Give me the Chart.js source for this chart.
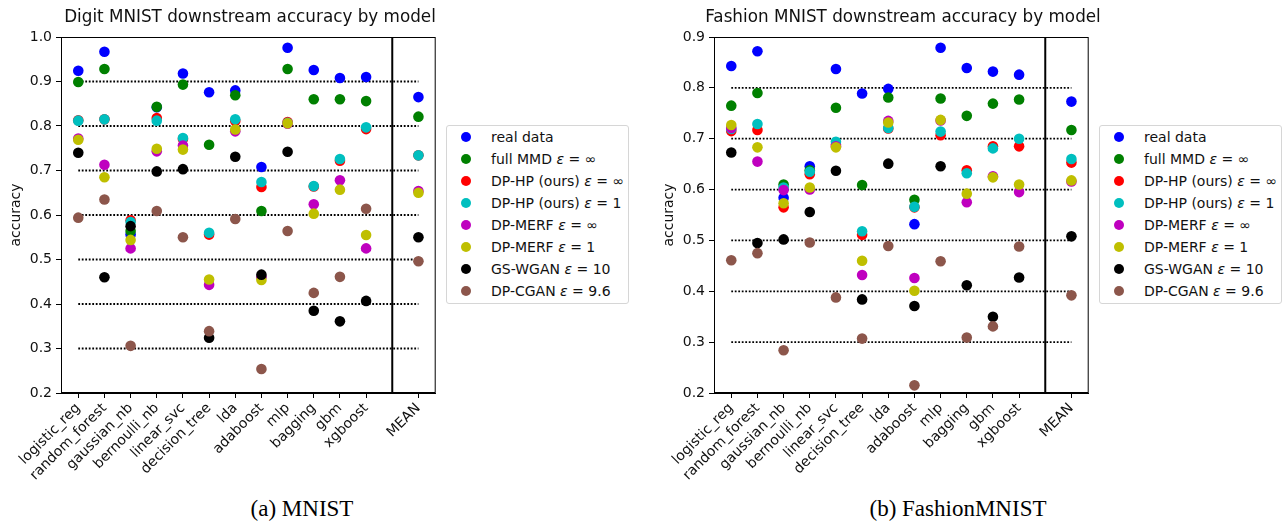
<!DOCTYPE html>
<html>
<head>
<meta charset="utf-8">
<script src="https://cdn.jsdelivr.net/npm/chart.js@4/dist/chart.umd.min.js"></script>
<style>
  body { margin: 0; background: #fff; width: 1284px; height: 525px; position: relative; overflow: hidden; font-family: "DejaVu Sans", sans-serif; }
  .plot { position: absolute; top: 0; width: 441px; height: 485px; }
  .title { position: absolute; top: 6px; width: 440px; text-align: center; font-size: 16.8px; color: #111; white-space: nowrap; }
  .legend { position: absolute; top: 125px; width: 181px; height: 177px; border: 1px solid #d6d6d6; border-radius: 3px; background: #fff; color: #111; font-size: 14px; }
  .legend .row { position: relative; height: 22px; line-height: 22px; white-space: nowrap; }
  .legend .dot { position: absolute; left: 14px; top: 6px; width: 10px; height: 10px; border-radius: 50%; }
  .legend .txt { position: absolute; left: 44px; top: 0; }
  .caption { position: absolute; top: 496px; font-family: "Liberation Serif", serif; font-size: 23px; color: #000; text-align: center; width: 400px; }
</style>
</head>
<body>
<div class="plot" style="left:0"><canvas id="digitChart"></canvas></div>
<div class="plot" style="left:653px"><canvas id="fashionChart"></canvas></div>
<div class="title" style="left:30px">Digit MNIST downstream accuracy by model</div>
<div class="title" style="left:683px">Fashion MNIST downstream accuracy by model</div>
<div class="legend" id="digitLegend" style="left:446px"></div>
<div class="legend" id="fashionLegend" style="left:1099px"></div>
<div class="caption" style="left:102px">(a) MNIST</div>
<div class="caption" style="left:758px">(b) FashionMNIST</div>
<script>
// models on the x axis, MEAN is put one slot after a separator
const models = ["logistic_reg", "random_forest", "gaussian_nb", "bernoulli_nb", "linear_svc",
  "decision_tree", "lda", "adaboost", "mlp", "bagging", "gbm", "xgboost"];
const meanLabel = "MEAN";

const seriesNames = ["real data", "full MMD ε = ∞", "DP-HP (ours) ε = ∞", "DP-HP (ours) ε = 1",
  "DP-MERF ε = ∞", "DP-MERF ε = 1", "GS-WGAN ε = 10", "DP-CGAN ε = 9.6"];
const seriesColors = ["#0000ff", "#008000", "#ff0000", "#00bfbf", "#bf00bf", "#bfbf00", "#000000", "#8c564b"];

// Digit MNIST (12 models + MEAN)
const digitReal    = [0.924, 0.967, 0.556, 0.842, 0.918, 0.876, 0.880, 0.708, 0.976, 0.926, 0.908, 0.910, 0.865];
const digitFullMMD = [0.899, 0.928, 0.564, 0.843, 0.893, 0.758, 0.869, 0.609, 0.928, 0.860, 0.860, 0.856, 0.821];
const digitHPinf   = [0.813, 0.815, 0.588, 0.818, 0.771, 0.556, 0.811, 0.663, 0.809, 0.664, 0.722, 0.793, 0.734];
const digitHP1     = [0.812, 0.815, 0.584, 0.812, 0.773, 0.560, 0.815, 0.674, 0.807, 0.665, 0.726, 0.797, 0.734];
const digitMERFinf = [0.772, 0.713, 0.525, 0.743, 0.756, 0.443, 0.788, 0.460, 0.805, 0.624, 0.678, 0.525, 0.654];
const digitMERF1   = [0.769, 0.685, 0.544, 0.749, 0.747, 0.455, 0.792, 0.454, 0.806, 0.603, 0.657, 0.555, 0.650];
const digitGSWGAN  = [0.740, 0.460, 0.575, 0.698, 0.703, 0.324, 0.731, 0.466, 0.742, 0.385, 0.361, 0.407, 0.550];
const digitDPCGAN  = [0.594, 0.635, 0.306, 0.609, 0.550, 0.339, 0.591, 0.254, 0.564, 0.425, 0.461, 0.614, 0.496];

// Fashion MNIST (12 models + MEAN)
const fashionReal    = [0.843, 0.872, 0.584, 0.646, 0.837, 0.789, 0.798, 0.532, 0.879, 0.839, 0.832, 0.826, 0.773];
const fashionFullMMD = [0.765, 0.790, 0.610, 0.638, 0.761, 0.609, 0.781, 0.580, 0.779, 0.745, 0.769, 0.777, 0.717];
const fashionHPinf   = [0.715, 0.717, 0.565, 0.630, 0.688, 0.511, 0.720, 0.565, 0.707, 0.638, 0.685, 0.685, 0.653];
const fashionHP1     = [0.719, 0.729, 0.604, 0.635, 0.694, 0.518, 0.721, 0.566, 0.714, 0.632, 0.681, 0.700, 0.660];
const fashionMERFinf = [0.721, 0.655, 0.599, 0.600, 0.685, 0.432, 0.735, 0.426, 0.736, 0.575, 0.626, 0.595, 0.616];
const fashionMERF1   = [0.727, 0.683, 0.573, 0.604, 0.683, 0.460, 0.732, 0.401, 0.737, 0.592, 0.624, 0.610, 0.618];
const fashionGSWGAN  = [0.673, 0.495, 0.502, 0.556, 0.637, 0.384, 0.651, 0.371, 0.646, 0.412, 0.350, 0.427, 0.508];
const fashionDPCGAN  = [0.461, 0.475, 0.284, 0.496, 0.388, 0.307, 0.489, 0.215, 0.459, 0.309, 0.331, 0.488, 0.392];

// dotted reference levels
const digitRefLevels = [0.3, 0.4, 0.5, 0.6, 0.7, 0.8, 0.9];
const fashionRefLevels = [0.3, 0.4, 0.5, 0.6, 0.7, 0.8];

const xLabels = [...models, meanLabel];
const xPos = [...models.map((_, i) => i), models.length + 1];
const sepX = models.length;

const tickFont = { family: "DejaVu Sans", size: 14 };

const framePlugin = {
  id: "frame",
  afterDraw(chart) {
    const { ctx, chartArea: a } = chart;
    ctx.save();
    ctx.strokeStyle = "#000";
    ctx.lineWidth = 1;
    ctx.strokeRect(a.left + 0.5, a.top + 0.5, a.right - a.left - 1, a.bottom - a.top - 1);
    ctx.restore();
  }
};

function makeChart(id, yMax, series, refLevels) {
  const datasets = series.map((arr, i) => ({
    label: seriesNames[i],
    data: arr.map((v, j) => ({ x: xPos[j], y: v })),
    backgroundColor: seriesColors[i],
    borderWidth: 0,
    pointRadius: 5.3,
    pointHoverRadius: 5.3,
    order: series.length - i
  }));
  refLevels.forEach(lv => datasets.push({
    label: "ref",
    data: [{ x: 0, y: lv }, { x: models.length + 1, y: lv }],
    showLine: true, borderColor: "#000", borderWidth: 1.8, borderDash: [1.8, 1.7],
    pointRadius: 0, order: 100
  }));
  datasets.push({
    label: "sep",
    data: [{ x: sepX, y: 0.2 }, { x: sepX, y: yMax }],
    showLine: true, borderColor: "#000", borderWidth: 2, pointRadius: 0, order: 99
  });

  new Chart(id, {
    type: "scatter",
    data: { datasets },
    plugins: [framePlugin],
    options: {
      responsive: false,
      animation: false,
      devicePixelRatio: 1,
      layout: { padding: { left: 0, right: 2, top: 37, bottom: 0 } },
      plugins: {
        legend: { display: false },
        tooltip: { enabled: false }
      },
      scales: {
        x: {
          type: "linear", min: -0.66, max: 13.66,
          afterBuildTicks: s => { s.ticks = xPos.map(v => ({ value: v })); },
          afterFit: s => { s.height = 92; },
          ticks: {
            autoSkip: false, minRotation: 45, maxRotation: 45, color: "#111", font: tickFont, padding: 2,
            callback: (v, i) => xLabels[i]
          },
          grid: { drawOnChartArea: false, drawTicks: true, tickLength: 5, tickColor: "#000" },
          border: { color: "#000", width: 1 }
        },
        y: {
          min: 0.2, max: yMax,
          afterFit: s => { s.width = 61; },
          ticks: { stepSize: 0.1, color: "#111", font: tickFont, padding: 4, callback: v => v.toFixed(1) },
          title: { display: true, text: "accuracy", color: "#111", font: tickFont, padding: { top: 8, bottom: 0 } },
          grid: { drawOnChartArea: false, drawTicks: true, tickLength: 5, tickColor: "#000" },
          border: { color: "#000", width: 1 }
        }
      }
    }
  });
}

function makeLegend(el) {
  el.innerHTML = seriesNames.map((name, i) =>
    `<div class="row"><span class="dot" style="background:${seriesColors[i]}"></span>` +
    `<span class="txt">${name.replace("ε", "<i>ε</i>")}</span></div>`).join("");
}

const digitCanvas = document.getElementById("digitChart");
digitCanvas.width = 441; digitCanvas.height = 485;
const fashionCanvas = document.getElementById("fashionChart");
fashionCanvas.width = 441; fashionCanvas.height = 485;

makeChart("digitChart", 1.0,
  [digitReal, digitFullMMD, digitHPinf, digitHP1, digitMERFinf, digitMERF1, digitGSWGAN, digitDPCGAN], digitRefLevels);
makeChart("fashionChart", 0.9,
  [fashionReal, fashionFullMMD, fashionHPinf, fashionHP1, fashionMERFinf, fashionMERF1, fashionGSWGAN, fashionDPCGAN], fashionRefLevels);

makeLegend(document.getElementById("digitLegend"));
makeLegend(document.getElementById("fashionLegend"));
</script>
</body>
</html>
